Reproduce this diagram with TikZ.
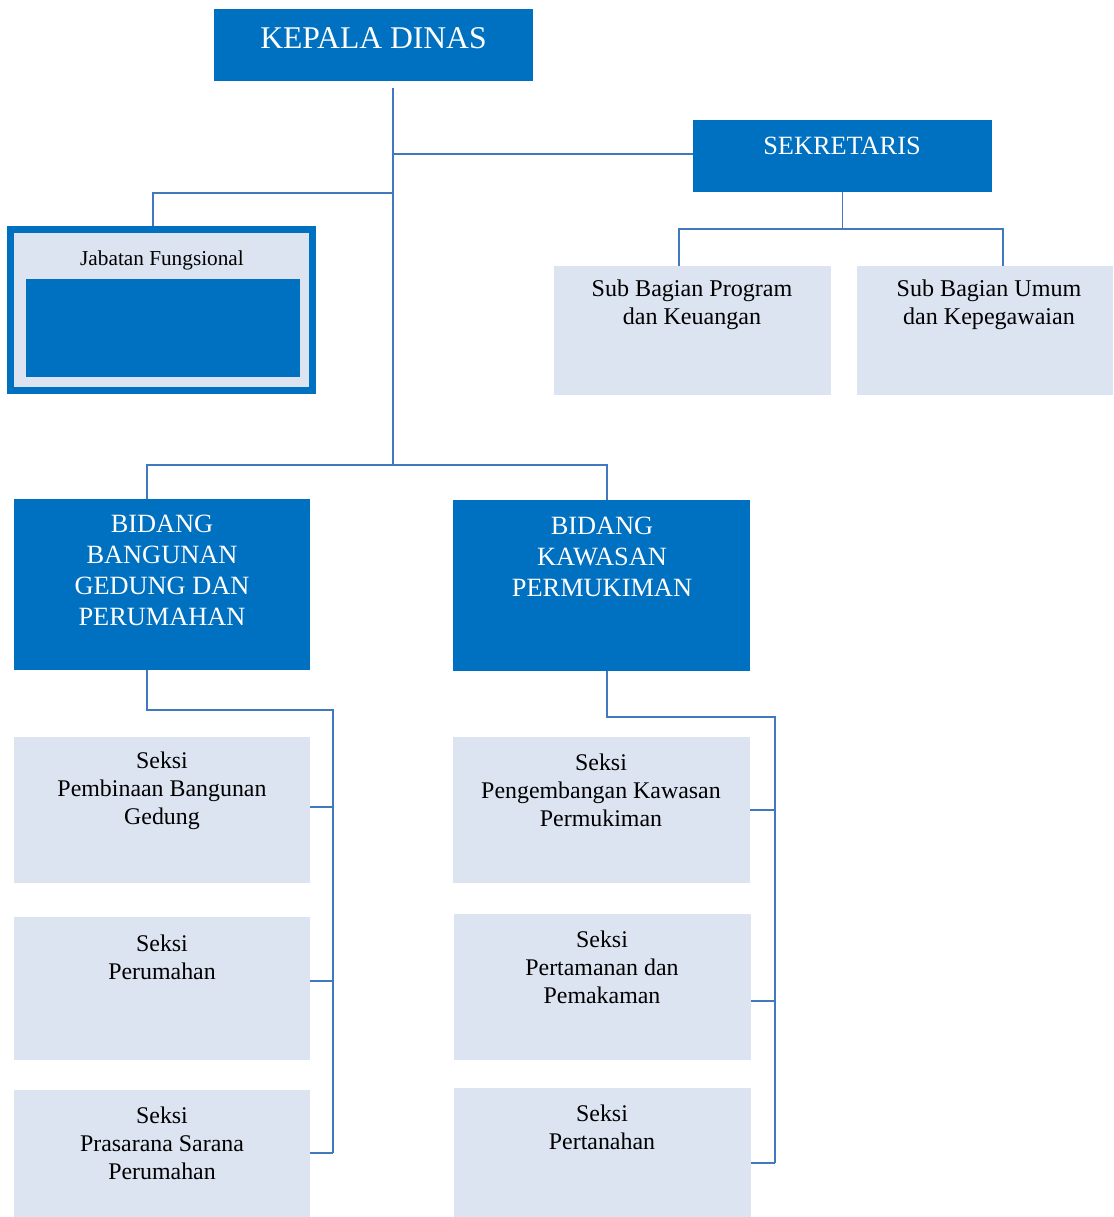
\documentclass[tikz,border=0pt]{standalone}
\usepackage{fontspec}
\setmainfont{Liberation Serif}
\usepackage{tikz}

\definecolor{dinasblue}{HTML}{0070C0}
\definecolor{seksifill}{HTML}{DBE4F0}
\definecolor{linkblue}{HTML}{4279BE}

\tikzset{
  darkbox/.style={fill=dinasblue, inner sep=0pt},
  lightbox/.style={fill=seksifill, inner sep=0pt},
  boxtext/.style={align=center, inner sep=0pt},
  link/.style={draw=linkblue, line width=1.1pt},
}

\begin{document}
\begin{tikzpicture}[x=0.02cm, y=-0.02cm]
  \useasboundingbox (0,0) rectangle (1113,1217);

  % kepala dan sekretariat
  \node[darkbox, minimum width=6.38cm, minimum height=1.44cm] (kepala) at (373.5,45) {};
  \node[boxtext, white, font=\fontsize{18}{21}\selectfont] (kepala-t) at (373.5,38) {KEPALA DINAS};
  \node[darkbox, minimum width=5.98cm, minimum height=1.44cm] (sekretaris) at (842.5,156) {};
  \node[boxtext, white, font=\fontsize{15}{17.6}\selectfont] (sekretaris-t) at (842,146) {SEKRETARIS};
  \node[lightbox, minimum width=5.54cm, minimum height=2.58cm] (subprog) at (692.5,330.5) {};
  \node[boxtext, font=\fontsize{13.7}{16.2}\selectfont] (subprog-t) at (692,305) {Sub Bagian Program\\dan Keuangan};
  \node[lightbox, minimum width=5.12cm, minimum height=2.58cm] (subumum) at (985,330.5) {};
  \node[boxtext, font=\fontsize{13.7}{16.2}\selectfont] (subumum-t) at (989,305) {Sub Bagian Umum\\dan Kepegawaian};

  % jabatan fungsional
  \node[lightbox, draw=dinasblue, line width=0.14cm, minimum width=6.04cm, minimum height=3.22cm] (jabatan) at (161.5,310) {};
  \node[darkbox, minimum width=5.48cm, minimum height=1.96cm] (jabatan-in) at (163,328) {};
  \node[boxtext, font=\fontsize{12.1}{14}\selectfont] (jabatan-t) at (162,260) {Jabatan Fungsional};

  % bidang
  \node[darkbox, minimum width=5.92cm, minimum height=3.42cm] (bidbg) at (162,584.5) {};
  \node[boxtext, white, font=\fontsize{15}{17.6}\selectfont] (bidbg-t) at (162,570.5) {BIDANG\\BANGUNAN\\GEDUNG DAN\\PERUMAHAN};
  \node[darkbox, minimum width=5.94cm, minimum height=3.42cm] (bidkp) at (601.5,585.5) {};
  \node[boxtext, white, font=\fontsize{15}{17.6}\selectfont] (bidkp-t) at (602,557) {BIDANG\\KAWASAN\\PERMUKIMAN};

  % seksi
  \node[lightbox, minimum width=5.92cm, minimum height=2.92cm] (s1) at (162,810) {};
  \node[boxtext, font=\fontsize{13.6}{15.9}\selectfont] (s1-t) at (162,790.5) {Seksi\\Pembinaan Bangunan\\Gedung};
  \node[lightbox, minimum width=5.92cm, minimum height=2.86cm] (s2) at (162,988.5) {};
  \node[boxtext, font=\fontsize{13.6}{15.9}\selectfont] (s2-t) at (162,957) {Seksi\\Perumahan};
  \node[lightbox, minimum width=5.92cm, minimum height=2.54cm] (s3) at (162,1153.5) {};
  \node[boxtext, font=\fontsize{13.6}{15.9}\selectfont] (s3-t) at (162,1143.5) {Seksi\\Prasarana Sarana\\Perumahan};
  \node[lightbox, minimum width=5.94cm, minimum height=2.92cm] (s4) at (601.5,810) {};
  \node[boxtext, font=\fontsize{13.6}{15.9}\selectfont] (s4-t) at (601,790.5) {Seksi\\Pengembangan Kawasan\\Permukiman};
  \node[lightbox, minimum width=5.94cm, minimum height=2.92cm] (s5) at (602.5,987) {};
  \node[boxtext, font=\fontsize{13.6}{15.9}\selectfont] (s5-t) at (602,967.5) {Seksi\\Pertamanan dan\\Pemakaman};
  \node[lightbox, minimum width=5.94cm, minimum height=2.58cm] (s6) at (602.5,1152.5) {};
  \node[boxtext, font=\fontsize{13.6}{15.9}\selectfont] (s6-t) at (602,1127) {Seksi\\Pertanahan};

  % garis
  \coordinate (trunk) at (393,88);
  \coordinate (hub) at (393,465);
  \coordinate (jf) at (393,193);
  \coordinate (sekin) at (693,154);
  \coordinate (sekbus) at (842.5,229);
  \coordinate (bgbus) at (333,710);
  \coordinate (bgend) at (333,1153);
  \coordinate (kpbus) at (775,717);
  \coordinate (kpend) at (775,1163);

  \draw[link] (trunk) -- (hub);
  \draw[link] (trunk |- sekin) -- (sekin);
  \draw[link] (jf) -| ([xshift=-0.17cm]jabatan.north);
  \draw[link] (sekretaris.south) -- (sekbus);
  \draw[link] ([xshift=-0.27cm]subprog.north) |- (sekbus) -| ([xshift=0.36cm]subumum.north);
  \draw[link] ([xshift=-0.3cm]bidbg.north) |- (hub) -| ([xshift=0.11cm]bidkp.north);

  \draw[link] ([xshift=-0.3cm]bidbg.south) |- (bgbus) -- (bgend);
  \draw[link] ([yshift=0.06cm]s1.east) -- ([yshift=0.06cm]s1.east -| bgbus);
  \draw[link] ([yshift=0.15cm]s2.east) -- ([yshift=0.15cm]s2.east -| bgbus);
  \draw[link] (s3.east |- bgend) -- (bgend);

  \draw[link] ([xshift=0.11cm]bidkp.south) |- (kpbus) -- (kpend);
  \draw[link] (s4.east) -- (s4.east -| kpbus);
  \draw[link] ([yshift=-0.28cm]s5.east) -- ([yshift=-0.28cm]s5.east -| kpbus);
  \draw[link] (s6.east |- kpend) -- (kpend);
\end{tikzpicture}
\end{document}
